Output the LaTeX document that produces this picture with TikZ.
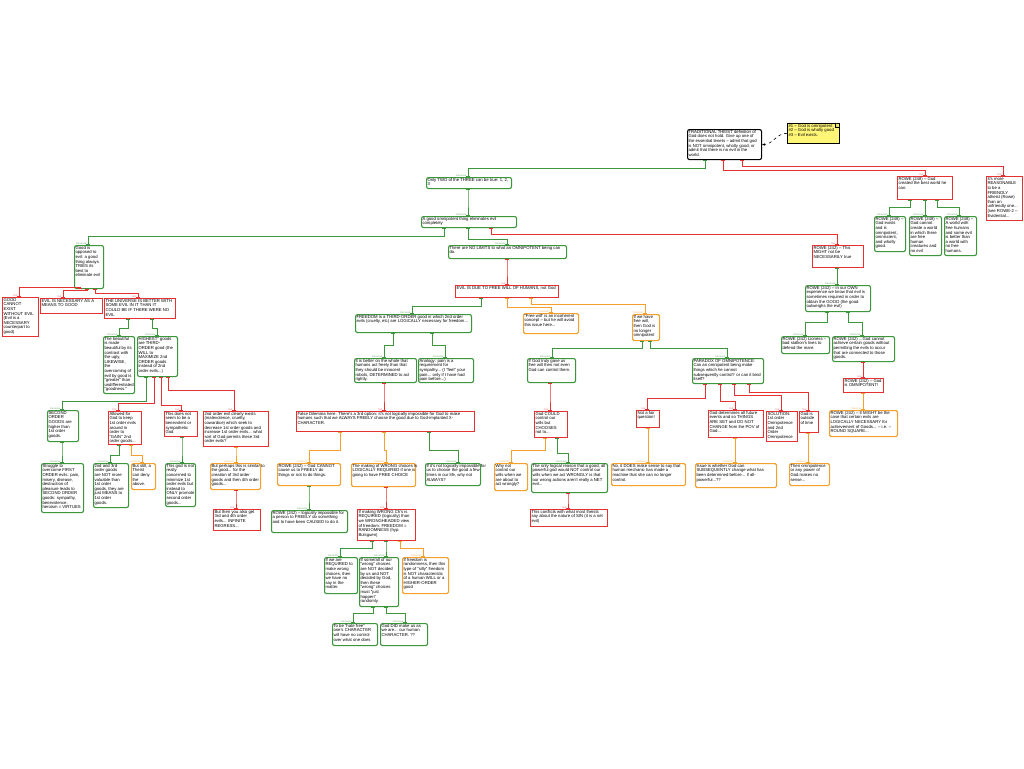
\documentclass[tikz,border=0pt]{standalone}
\usepackage{fontspec}
\setmainfont{Liberation Sans}
\usetikzlibrary{arrows.meta}
\definecolor{gC}{RGB}{60,150,60}
\definecolor{rC}{RGB}{232,48,48}
\definecolor{oC}{RGB}{245,160,45}
\definecolor{nY}{RGB}{255,246,120}
\tikzset{
 bxg/.style={draw=gC, line width=1.1pt, rounded corners=2pt, fill=white, inner sep=0pt},
 bxr/.style={draw=rC, line width=1.1pt, fill=white, inner sep=0pt},
 bxo/.style={draw=oC, line width=1.1pt, rounded corners=1.5pt, fill=white, inner sep=0pt},
 bxk/.style={draw=black, line width=1.1pt, rounded corners=2pt, fill=white, inner sep=0pt},
 bxn/.style={draw=black, line width=0.5pt, fill=nY, inner sep=0pt},
 txt/.style={inner sep=0pt, align=left, font=\fontsize{4.25}{4.6}\selectfont},
 lab/.style={inner sep=0pt, font=\fontsize{2.6}{3}\selectfont},
 conn/.style={line width=0.9pt, {Bar[width=3.5pt]}-{Bar[width=3.5pt]}},
}
\newcommand\mybox[7]{%
 \node[#1,anchor=north west,minimum width=#5pt,minimum height=#6pt] (#2) at (#3,#4) {};
 \node[txt,anchor=north west] (#2-t) at ([xshift=1.3pt,yshift=-1.1pt]#2.north west) {#7};}
\newcommand\myconn[7]{%
 \coordinate (#6-a) at (perpendicular cs: horizontal line through={(#3.south)}, vertical line through={(#4,0)});
 \coordinate (#6-b) at (perpendicular cs: horizontal line through={(#6.north)}, vertical line through={(#7,0)});
 \draw[conn,draw=#1] (#6-a) -- (#4,#5) -- (#7,#5) -- (#6-b);
 \node[lab,text=#1!70,anchor=south east] (#6-l) at ([xshift=-1.5pt,yshift=0.5pt]#6-b) {#2};}
\newcommand\conG[5]{\myconn{gC}{because}{#1}{#2}{#3}{#4}{#5}}
\newcommand\conR[5]{\myconn{rC}{but}{#1}{#2}{#3}{#4}{#5}}
\newcommand\conO[5]{\myconn{oC}{however}{#1}{#2}{#3}{#4}{#5}}
\begin{document}
\begin{tikzpicture}[x=1pt,y=-1pt]
\useasboundingbox[fill=white] (0,0) rectangle (1024,768);
% top
\mybox{bxk}{root}{687}{129}{74}{30}{TRADITIONAL THEIST definition of\\God does not hold. Give up one of\\the essential tenets -- admit that god\\is NOT omnipotent, wholly good, or\\admit that there is no evil in the\\world.}
\mybox{bxn}{note}{787}{123}{52}{20}{\#1 -- God is omnipotent\\\#2 -- God is wholly good\\\#3 -- Evil exists.}
\draw[line width=0.5pt, fill=nY!70!black!30!nY] ([xshift=-4pt]note.north east) -- ([xshift=-4pt,yshift=-4pt]note.north east) -- ([yshift=-4pt]note.north east);
\mybox{bxg}{only2}{426}{177}{85}{11}{Only TWO of the THREE can be true: 1, 2,\\3}
\mybox{bxg}{agood}{421}{216}{95}{11}{A good omnipotent thing eliminates evil\\completely}
\mybox{bxg}{nolim}{448}{245}{118}{13}{There are NO LIMITS to what an OMNIPOTENT being can\\do.}
\mybox{bxr}{evil}{455}{285}{103}{12}{EVIL IS DUE TO FREE WILL OF HUMANS, not God}
\mybox{bxr}{might}{812}{245}{51}{22}{ROWE (242) -- This\\MIGHT not be\\NECESSARILY true}
\mybox{bxr}{r248}{897}{176}{55}{23}{ROWE (248) -- God\\created the best world he\\can.}
\mybox{bxr}{reas}{986}{176}{36}{44}{It's more\\REASONABLE\\to be a\\FRIENDLY\\atheist (Rowe)\\than an\\unfriendly one...\\(see ROWE-2 --\\Evidential...}
\mybox{bxg}{c1}{874}{216}{31}{35}{ROWE (248) --\\God exists\\and is\\omnipotent,\\omniscient,\\and wholly\\good.}
\mybox{bxg}{c2}{909}{216}{32}{39}{ROWE (248) --\\God cannot\\create a world\\in which there\\are free\\human\\creatures and\\no evil}
\mybox{bxg}{c3}{944}{216}{32}{39}{ROWE (248) --\\A world with\\free humans\\and some evil\\is better than\\a world with\\no free\\humans.}
% left
\mybox{bxg}{goodopp}{74}{245}{29}{43}{Good is\\opposed to\\evil: a good\\thing always\\TRIES its\\best to\\eliminate evil}
\mybox{bxr}{gcannot}{2}{297}{36}{39}{GOOD\\CANNOT\\EXIST\\WITHOUT EVIL\\(Evil is a\\NECESSARY\\counterpart to\\good)}
\mybox{bxr}{evnec}{40}{298}{62}{15}{EVIL IS NECESSARY AS A\\MEANS TO GOOD}
\mybox{bxr}{univ}{104}{298}{71}{20}{THE UNIVERSE IS BETTER WITH\\SOME EVIL IN IT THAN IT\\COULD BE IF THERE WERE NO\\EVIL}
\mybox{bxg}{beaut}{103}{336}{31}{57}{The beautiful\\is made\\beautiful by its\\contrast with\\the ugly,\\LIKEWISE,\\the\\overcoming of\\evil by good is\\"greater" than\\undifferentiated\\"goodness."}
\mybox{bxg}{highest}{137}{336}{40}{40}{HIGHEST" goods\\are THIRD-\\ORDER good (the\\WILL to\\MAXIMIZE 2nd\\ORDER goods\\instead of 2nd\\order evils...)}
\mybox{bxg}{second}{47}{410}{31}{31}{SECOND\\ORDER\\GOODS are\\higher than\\1st order\\goods.}
\mybox{bxr}{allowed}{108}{411}{33}{33}{Allowed for\\God to keep\\1st order evils\\around in\\order to\\"GAIN" 2nd\\order goods...}
\mybox{bxr}{thisdoes}{164}{411}{33}{25}{This does not\\seem to be a\\benevolent or\\sympathetic\\God}
\mybox{bxr}{ord2}{203}{411}{65}{35}{2nd order evil clearly exists\\(malevolence, cruelty,\\cowardice) which seek to\\decrease 1st order goods and\\increase 1st order evils... what\\sort of God permits these 3rd\\order evils?}
\mybox{bxg}{struggle}{41}{463}{42}{49}{Struggle to\\overcome FIRST\\ORDER evils: pain,\\misery, disease,\\destruction of\\pleasure leads to\\SECOND ORDER\\goods: sympathy,\\benevolence,\\heroism = VIRTUES}
\mybox{bxg}{and3}{93}{463}{35}{44}{2nd and 3rd\\order goods\\are NOT more\\valuable than\\1st order\\goods, they are\\just MEANS to\\1st order\\goods.}
\mybox{bxo}{still}{131}{463}{24}{26}{But still, a\\Theist\\can deny\\the\\above.}
\mybox{bxg}{godnot}{165}{463}{30}{43}{This god is not\\really\\concerned to\\minimize 1st\\order evils but\\instead to\\ONLY promote\\second order\\goods...}
\mybox{bxo}{perhaps}{210}{463}{50}{26}{But perhaps this is similar to\\the good... for the\\creation of 3rd order\\goods and then 4th order\\goods...}
\mybox{bxr}{then}{213}{509}{47}{21}{But then you also get\\3rd and 4th order\\evils... INFINITE\\REGRESS...}
% center
\mybox{bxg}{freedom}{355}{314}{116}{18}{FREEDOM is a THIRD-ORDER good in which 2nd order\\evils (cruelty, etc) are LOGICALLY necessary for freedom...}
\mybox{bxo}{freewill}{523}{313}{55}{20}{"Free will" is an incoherent\\concept -- but he will avoid\\this issue here...}
\mybox{bxo}{ifwe}{632}{314}{27}{26}{If we have\\free will,\\then God is\\no longer\\omnipotent}
\mybox{bxg}{better}{354}{358}{62}{24}{It is better on the whole that\\humans act freely than that\\they should be innocent\\robots, DETERMINED to act\\rightly.}
\mybox{bxg}{analogy}{418}{358}{55}{24}{Analogy: pain is a\\requirement for\\sympathy... (I "feel" your\\pain... only if I have had\\pain before...)}
\mybox{bxr}{false}{296}{411}{178}{20}{False Dilemma here. There's a 3rd option: it's not logically impossible for God to make\\humans such that we ALWAYS FREELY choose the good due to God-implanted X-\\CHARACTER.}
\mybox{bxo}{rowecannot}{277}{463}{63}{22}{ROWE (242) -- God CANNOT\\cause us to FREELY do\\things or not to do things.}
\mybox{bxo}{making}{351}{463}{64}{23}{The making of WRONG choices is\\LOGICALLY REQUIRED if one is\\going to have FREE CHOICE}
\mybox{bxg}{ifnot}{425}{463}{55}{22}{If it's not logically impossible for\\us to choose the good a few\\times in our life, why not\\ALWAYS?}
\mybox{bxg}{rowelog}{271}{510}{76}{22}{ROWE (242) -- logically impossible for\\a person to FREELY do something\\and to have been CAUSED to do it.}
\mybox{bxr}{ifmaking}{357}{509}{58}{31}{If making WRONG Ch's is\\REQUIRED (logically) than\\we WRONGHEADED view\\of freedom: FREEDOM =\\RANDOMNESS (hyp.\\Bulsguen)}
\mybox{bxg}{required}{324}{557}{33}{36}{If we are\\REQUIRED to\\make wrong\\choices, then\\we have no\\say in the\\matter.}
\mybox{bxg}{someall}{359}{557}{39}{49}{If some/all of our\\"wrong" choices\\are NOT decided\\by us and NOT\\decided by God,\\then these\\"wrong" choices\\must "just\\happen"\\randomly.}
\mybox{bxo}{randomness}{402}{557}{46}{36}{If freedom is\\randomness, then this\\type of "silly" freedom\\is NOT characteristic\\of a human WILL or a\\HIGHER-ORDER\\good}
\mybox{bxg}{tobe}{332}{623}{45}{22}{To be "hate free"\\one's CHARACTER\\will have no control\\over what one does}
\mybox{bxg}{goddid}{380}{623}{47}{22}{God DID make us as\\we are... our human\\CHARACTER. ??}
% center right
\mybox{bxg}{iftruly}{527}{358}{48}{24}{If God truly gave us\\free will then not even\\God can control them.}
\mybox{bxg}{paradox}{692}{358}{71}{25}{PARADOX OF OMNIPOTENCE:\\Can an omnipotent being make\\things which he cannot\\subsequently control? or can it bind\\itself?}
\mybox{bxr}{could}{534}{411}{33}{26}{God COULD\\control our\\wills but\\CHOOSES\\not to...}
\mybox{bxo}{whynot}{494}{463}{33}{27}{Why not\\control our\\wills when we\\are about to\\act wrongly?}
\mybox{bxg}{onlylog}{531}{463}{76}{29}{The only logical reason that a good, all\\powerful god would NOT control our\\wills when we act WRONGLY is that\\our wrong actions aren't really a NET\\evil...}
\mybox{bxr}{conflicts}{530}{509}{77}{17}{This conflicts with what most theists\\say about the nature of SIN (it is a net\\evil)}
\mybox{bxr}{fair}{636}{410}{23}{17}{Not a fair\\question!}
\mybox{bxr}{determ}{708}{410}{55}{27}{God determines all future\\events and so THINGS\\ARE SET and DO NOT\\CHANGE from the POV of\\God...}
\mybox{bxr}{solution}{766}{411}{31}{30}{SOLUTION:\\1st order\\Omnipotence\\and 2nd\\Order\\Omnipotence}
\mybox{bxr}{outside}{799}{411}{19}{21}{God is\\outside\\of time}
\mybox{bxo}{nodoes}{611}{463}{74}{22}{No, it DOES make sense to say that\\human mechanic has made a\\machine that she can no longer\\control.}
\mybox{bxo}{issue}{695}{463}{81}{24}{Issue is whether God can\\SUBSEQUENTLY change what has\\been determined before... if all-\\powerful...??}
\mybox{bxo}{thenomni}{789}{463}{40}{22}{Then omnipotence\\or any power of\\God makes no\\sense...}
% right
\mybox{bxg}{ownexp}{805}{285}{65}{26}{ROWE (242) -- in our OWN\\experience we know that evil is\\sometimes required in order to\\obtain the GOOD (the good\\outweighs the evil)}
\mybox{bxg}{lioness}{781}{336}{48}{17}{ROWE (242) Lioness --\\bad stallion's lives to\\defend the mare.}
\mybox{bxg}{achieve}{832}{336}{62}{25}{ROWE (242) ...God cannot\\achieve certain goods without\\permitting the evils to occur\\that are connected to those\\goods.}
\mybox{bxr}{isomni}{843}{378}{40}{14}{ROWE (242) -- God\\is OMNIPOTENT!}
\mybox{bxo}{itmight}{829}{410}{68}{26}{ROWE (242) -- It MIGHT be the\\case that certain evils are\\LOGICALLY NECESSARY for\\achievement of Goods... -- i.e. --\\ROUND SQUARE...}
% note link
\draw[dashed, line width=0.6pt, -{Stealth[length=3pt,width=2.5pt]}] (note.west) to[out=180,in=0] (root.east);
% connectors
\conG{root}{705}{168}{only2}{468}
\conR{root}{723}{170}{r248}{925}
\conR{root}{742}{166}{reas}{1003}
\conG{r248}{910}{207}{c1}{889}
\conG{r248}{925}{207}{c2}{925}
\conG{r248}{937}{207}{c3}{959}
\conG{only2}{468}{200}{agood}{468}
\conG{agood}{444}{236}{goodopp}{88}
\conG{agood}{468}{239}{nolim}{507}
\conR{agood}{491}{234}{might}{837}
\conR{nolim}{507}{270}{evil}{507}
\conR{goodopp}{80}{287}{gcannot}{19}
\conR{goodopp}{87}{290}{evnec}{63}
\conR{goodopp}{95}{293}{univ}{138}
\conG{univ}{128}{328}{beaut}{119}
\conG{univ}{152}{328}{highest}{157}
\conG{highest}{146}{401}{second}{62}
\conR{highest}{154}{403}{allowed}{118}
\conR{highest}{161}{405}{thisdoes}{181}
\conR{highest}{168}{390}{ord2}{234}
\conG{second}{62}{450}{struggle}{62}
\conG{allowed}{119}{455}{and3}{110}
\conO{allowed}{131}{455}{still}{142}
\conG{thisdoes}{182}{450}{godnot}{182}
\conO{ord2}{236}{450}{perhaps}{236}
\conR{perhaps}{236}{500}{then}{236}
\conG{evil}{481}{306}{freedom}{412}
\conO{evil}{507}{307}{freewill}{551}
\conO{evil}{531}{304}{ifwe}{645}
\conG{freedom}{393}{345}{better}{384}
\conG{freedom}{432}{345}{analogy}{445}
\conR{better}{384}{395}{false}{384}
\conO{false}{340}{450}{rowecannot}{309}
\conO{false}{384}{450}{making}{386}
\conG{false}{429}{450}{ifnot}{458}
\conG{rowecannot}{309}{497}{rowelog}{309}
\conR{making}{386}{497}{ifmaking}{386}
\conG{ifmaking}{372}{548}{required}{340}
\conG{ifmaking}{386}{548}{someall}{386}
\conO{ifmaking}{400}{548}{randomness}{423}
\conG{someall}{373}{613}{tobe}{353}
\conG{someall}{386}{613}{goddid}{405}
\conG{ifwe}{642}{348}{iftruly}{552}
\conG{ifwe}{650}{348}{paradox}{727}
\conR{iftruly}{550}{395}{could}{550}
\conO{could}{545}{450}{whynot}{511}
\conG{could}{557}{453}{onlylog}{568}
\conR{onlylog}{568}{500}{conflicts}{568}
\conR{paradox}{705}{398}{fair}{647}
\conR{paradox}{720}{401}{determ}{735}
\conR{paradox}{734}{395}{solution}{781}
\conR{paradox}{749}{392}{outside}{808}
\conO{fair}{648}{450}{nodoes}{648}
\conO{determ}{735}{450}{issue}{735}
\conO{outside}{808}{450}{thenomni}{808}
\conG{might}{837}{275}{ownexp}{837}
\conG{ownexp}{827}{322}{lioness}{805}
\conG{ownexp}{848}{322}{achieve}{862}
\conR{achieve}{863}{370}{isomni}{863}
\conO{isomni}{863}{400}{itmight}{863}
\end{tikzpicture}
\end{document}
